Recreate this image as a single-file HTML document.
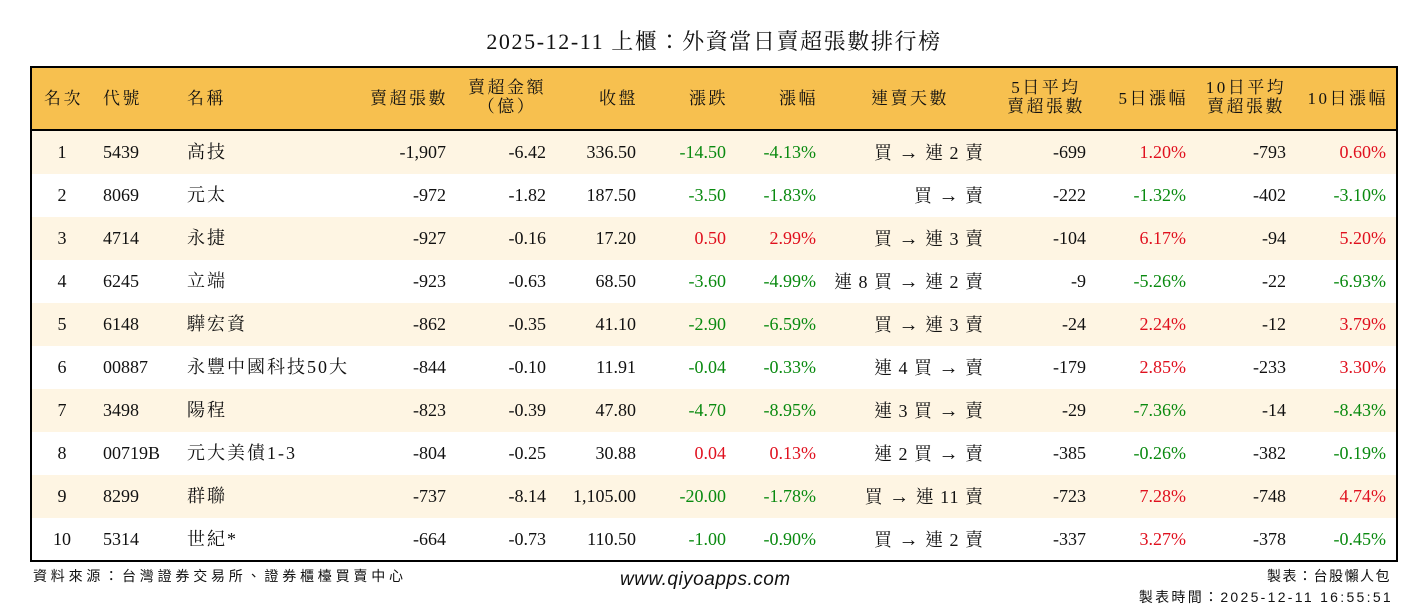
<!DOCTYPE html>
<html><head><meta charset="utf-8"><style>
body{margin:0;width:1428px;height:612px;background:#fff;position:relative;overflow:hidden;font-family:"Liberation Serif","Noto Serif CJK TC","Noto Serif CJK SC",serif;color:#111}
.t{position:absolute;white-space:nowrap;line-height:1}
#title{left:0;width:1428px;text-align:center;top:31px;font-size:22px;letter-spacing:1.6px}
#tbl{position:absolute;left:30px;top:66px;width:1364px;height:492px;border:2px solid #000}
#hdr{position:absolute;left:0;top:0;width:1364px;height:61px;background:#F7C04F;border-bottom:2px solid #000}
.row{position:absolute;left:0;width:1364px;height:43px}
.c{background:#FEF5E3}
.h{font-size:17px;letter-spacing:2.5px}
.d{font-size:18px}
.r{color:#E0101E}.g{color:#0A8A10}
.f{font-family:"Liberation Sans","Noto Sans CJK TC",sans-serif;font-size:14px;letter-spacing:1px}
</style></head><body>
<div class="t" id="title">2025-12-11 上櫃：外資當日賣超張數排行榜</div>
<div id="tbl"><div id="hdr"></div>
<div class="row c" style="top:63px"></div>
<div class="row c" style="top:149px"></div>
<div class="row c" style="top:235px"></div>
<div class="row c" style="top:321px"></div>
<div class="row c" style="top:407px"></div>
</div>
<div id="cells"></div>
<script>
const H=[["名次",44,"l"],["代號",103,"l"],["名稱",187,"l"],["賣超張數",446,"r"],["賣超金額<br>（億）",507,"c"],["收盤",636,"r"],["漲跌",726,"r"],["漲幅",816,"r"],["連賣天數",910,"c"],["5日平均<br>賣超張數",1046,"c"],["5日漲幅",1186,"r"],["10日平均<br>賣超張數",1246,"c"],["10日漲幅",1386,"r"]];
const D=[
["1","5439","高技","-1,907","-6.42","336.50","-14.50","-4.13%","買 → 連 2 賣","-699","1.20%","-793","0.60%"],
["2","8069","元太","-972","-1.82","187.50","-3.50","-1.83%","買 → 賣","-222","-1.32%","-402","-3.10%"],
["3","4714","永捷","-927","-0.16","17.20","0.50","2.99%","買 → 連 3 賣","-104","6.17%","-94","5.20%"],
["4","6245","立端","-923","-0.63","68.50","-3.60","-4.99%","連 8 買 → 連 2 賣","-9","-5.26%","-22","-6.93%"],
["5","6148","驊宏資","-862","-0.35","41.10","-2.90","-6.59%","買 → 連 3 賣","-24","2.24%","-12","3.79%"],
["6","00887","永豐中國科技50大","-844","-0.10","11.91","-0.04","-0.33%","連 4 買 → 賣","-179","2.85%","-233","3.30%"],
["7","3498","陽程","-823","-0.39","47.80","-4.70","-8.95%","連 3 買 → 賣","-29","-7.36%","-14","-8.43%"],
["8","00719B","元大美債1-3","-804","-0.25","30.88","0.04","0.13%","連 2 買 → 賣","-385","-0.26%","-382","-0.19%"],
["9","8299","群聯","-737","-8.14","1,105.00","-20.00","-1.78%","買 → 連 11 賣","-723","7.28%","-748","4.74%"],
["10","5314","世紀*","-664","-0.73","110.50","-1.00","-0.90%","買 → 連 2 賣","-337","3.27%","-378","-0.45%"]];
let s="";
for(const [txt,x,a] of H){
 const two=txt.includes("<br>");
 let st=a=="l"?`left:${x}px`:a=="r"?`right:${1428-x-2}px`:`left:${x-100}px;width:200px;text-align:center`;
 s+=`<div class="t h" style="${st};top:${two?78:89}px;line-height:19px">${txt}</div>`;
}
const X=[[62,"c"],[103,"l"],[187,"l"],[446,"r"],[546,"r"],[636,"r"],[726,"r"],[816,"r"],[984,"r"],[1086,"r"],[1186,"r"],[1286,"r"],[1386,"r"]];
D.forEach((r,i)=>{const y=143+i*43;r.forEach((v,j)=>{const [x,a]=X[j];
 let st=a=="l"?`left:${x}px`:a=="r"?`right:${1428-x}px`:`left:${x-30}px;width:60px;text-align:center`;
 if(j==2)st+=";letter-spacing:2px";
 if(j==8){st+=";letter-spacing:1px";v=v.replace("→",'<span style="font-size:20px;font-family:\'Liberation Serif\',serif">→</span>');}
 let cl="";if([6,7,10,12].includes(j))cl=r[j].startsWith("-")?"g":"r";
 s+=`<div class="t d ${cl}" style="${st};top:${y}px">${v}</div>`;});});
s+=`<div class="t f" style="left:33px;top:569px;letter-spacing:3.8px">資料來源：台灣證券交易所、證券櫃檯買賣中心</div>`;
s+=`<div class="t" style="left:620px;top:570px;font-family:'Liberation Sans',sans-serif;font-style:italic;font-size:19px;letter-spacing:0.5px">www.qiyoapps.com</div>`;
s+=`<div class="t f" style="right:37px;top:569px;letter-spacing:1.5px">製表：台股懶人包</div>`;
s+=`<div class="t f" style="right:35px;top:590px;letter-spacing:2.3px">製表時間：2025-12-11 16:55:51</div>`;
document.getElementById("cells").innerHTML=s;
</script>
</body></html>
